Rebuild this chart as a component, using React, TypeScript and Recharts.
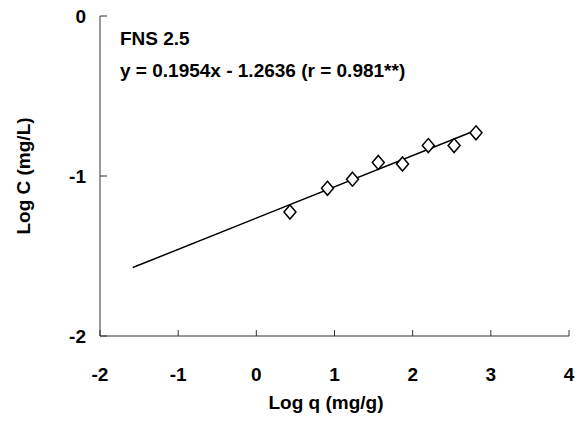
import React from 'react';
import { ScatterChart, Scatter, XAxis, YAxis, Customized } from 'recharts';

// measured points (Log q, Log C)
const logQ = [0.43, 0.91, 1.23, 1.56, 1.87, 2.2, 2.53, 2.81];
const logC = [-1.225, -1.077, -1.02, -0.915, -0.925, -0.81, -0.81, -0.73];

// regression line endpoints as drawn
const fitX = [-1.58, 2.81];
const fitY = [-1.572, -0.714];

const xTicks = [-2, -1, 0, 1, 2, 3, 4];
const yTicks = [-2, -1, 0];

const seriesName = 'FNS 2.5';
const equation = 'y = 0.1954x - 1.2636 (r = 0.981**)';

const points = logQ.map((x, i) => ({ x, y: logC[i] }));
const fitLine = fitX.map((x, i) => ({ x, y: fitY[i] }));

const font = { fontFamily: '"Liberation Sans", Arial, sans-serif', fontWeight: 'bold' as const, fontSize: 19, fill: '#000' };

const Diamond: React.FC<any> = ({ cx, cy }) => {
  if (cx == null || cy == null) return <g />;
  return (
    <polygon
      points={`${cx},${cy - 7} ${cx + 6},${cy} ${cx},${cy + 7} ${cx - 6},${cy}`}
      fill="#fff"
      stroke="#000"
      strokeWidth={1.5}
    />
  );
};

const NoDot: React.FC<any> = () => <g />;

const YTick: React.FC<any> = ({ x, y, payload }) => (
  <g>
    <line x1={x} x2={x + 7} y1={y} y2={y} stroke="#333" />
    <text x={x - 14} y={y} dy={7} textAnchor="end" {...font}>{payload.value}</text>
  </g>
);

const XTick: React.FC<any> = ({ x, y, payload }) => (
  <g>
    <line x1={x} x2={x} y1={y} y2={y - 6} stroke="#333" />
    <text x={x} y={y} dy={45} textAnchor="middle" {...font}>{payload.value}</text>
  </g>
);

const Notes: React.FC<any> = () => (
  <g>
    <text x={120} y={45} {...font}>{seriesName}</text>
    <text x={120} y={77} {...font}>{equation}</text>
    <text x={326} y={409} textAnchor="middle" {...font}>Log q (mg/g)</text>
    <text x={30} y={176} textAnchor="middle" transform="rotate(-90, 30, 176)" {...font}>Log C (mg/L)</text>
  </g>
);

export default function App() {
  return (
    <div style={{ position: 'absolute', left: 0, top: 0, background: '#fff' }}>
      <ScatterChart width={585} height={423} margin={{ top: 16, right: 16, bottom: 27, left: 0 }}>
        <XAxis
          type="number"
          dataKey="x"
          domain={[-2, 4]}
          ticks={xTicks}
          interval={0}
          height={60}
          tickSize={0}
          tickMargin={0}
          tickLine={false}
          axisLine={{ stroke: '#333' }}
          tick={<XTick />}
          allowDataOverflow
        />
        <YAxis
          type="number"
          dataKey="y"
          domain={[-2, 0]}
          ticks={yTicks}
          interval={0}
          width={100}
          tickSize={0}
          tickMargin={0}
          tickLine={false}
          axisLine={{ stroke: '#333' }}
          tick={<YTick />}
          allowDataOverflow
        />
        <Scatter
          data={fitLine}
          line={{ stroke: '#000', strokeWidth: 1.5 }}
          shape={<NoDot />}
          isAnimationActive={false}
        />
        <Scatter data={points} shape={<Diamond />} isAnimationActive={false} />
        <Customized component={Notes} />
      </ScatterChart>
    </div>
  );
}
